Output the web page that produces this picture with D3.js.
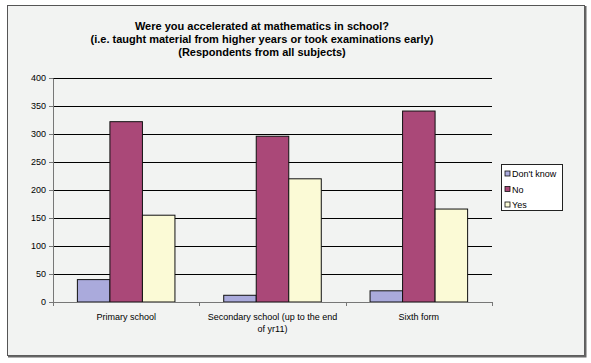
<!DOCTYPE html>
<html>
<head>
<meta charset="utf-8">
<script src="https://cdn.jsdelivr.net/npm/d3@7"></script>
<style>
  body { margin: 0; background: #ffffff; }
  text { font-family: "Liberation Sans", Arial, sans-serif; }
</style>
</head>
<body>
<div id="chart"></div>
<script>
// chart data
var categories = ["Primary school", "Secondary school (up to the end of yr11)", "Sixth form"];
var seriesNames = ["Don't know", "No", "Yes"];
var dontKnow = [40, 12, 20];
var no = [322, 296, 341];
var yes = [155, 220, 166];
var yTicks = [0, 50, 100, 150, 200, 250, 300, 350, 400];
var titleLines = ["Were you accelerated at mathematics in school?",
                  "(i.e. taught material from higher years or took examinations early)",
                  "(Respondents from all subjects)"];

var colors = ["#aaaadc", "#aa4878", "#fbfad6"];
var seriesValues = [dontKnow, no, yes];

var W = 591, H = 363;
var margin = {top: 78, left: 53, right: 99, bottom: 61};
var width = W - margin.left - margin.right,
    height = H - margin.top - margin.bottom;

var svg = d3.select("#chart")
    .append("svg")
    .attr("width", W)
    .attr("height", H);

// chart frame
svg.append("rect")
    .attr("x", 7.5).attr("y", 5.5)
    .attr("width", 577).attr("height", 350)
    .attr("fill", "#f2f3f2")
    .attr("stroke", "#555")
    .attr("stroke-width", 1);
// shadow on right and bottom
svg.append("path")
    .attr("d", "M585.5,6 V356.5 H8")
    .attr("fill", "none")
    .attr("stroke", "#666")
    .attr("stroke-width", 2);

// title
svg.append("g").selectAll("text")
    .data(titleLines)
    .enter()
    .append("text")
    .attr("x", 262)
    .attr("y", (d, i) => 30 + i * 13)
    .attr("text-anchor", "middle")
    .style("font-size", "11px")
    .style("font-weight", "bold")
    .style("fill", "#000")
    .text(d => d);

var g = svg.append("g")
    .attr("transform", "translate(" + margin.left + "," + margin.top + ")");

var x0 = d3.scaleBand()
    .domain(categories)
    .range([0, width])
    .paddingInner(0)
    .paddingOuter(0);

var x1 = d3.scaleBand()
    .domain(seriesNames)
    .range([0, x0.bandwidth()])
    .paddingOuter(0.75)
    .paddingInner(0);

var y = d3.scaleLinear()
    .domain([0, 400])
    .range([height, 0]);

// gridlines
g.append("g")
    .selectAll("line")
    .data(yTicks.filter(d => d > 0))
    .enter()
    .append("line")
    .attr("x1", 0).attr("x2", width)
    .attr("y1", d => Math.round(y(d)) + 0.5)
    .attr("y2", d => Math.round(y(d)) + 0.5)
    .attr("stroke", "#000")
    .attr("stroke-width", 1);

// bars
g.append("g")
    .selectAll("g")
    .data(categories)
    .enter()
    .append("g")
    .attr("transform", d => "translate(" + x0(d) + ",0)")
    .selectAll("rect")
    .data((d, ci) => seriesNames.map((s, si) => ({s: s, si: si, v: seriesValues[si][ci]})))
    .enter()
    .append("rect")
    .attr("x", d => x1(d.s))
    .attr("y", d => y(d.v))
    .attr("width", x1.bandwidth())
    .attr("height", d => height - y(d.v))
    .attr("fill", d => colors[d.si])
    .attr("stroke", "#111")
    .attr("stroke-width", 1);

// y axis
var yAxis = g.append("g")
    .call(d3.axisLeft(y).tickValues(yTicks).tickSize(4).tickSizeOuter(0));
yAxis.select(".domain").attr("stroke", "#777");
yAxis.selectAll(".tick line").attr("stroke", "#777");
yAxis.selectAll("text")
    .style("font-size", "9px")
    .style("font-family", "Liberation Sans, Arial, sans-serif")
    .attr("x", -7)
    .attr("fill", "#000");

// x axis
var xAxis = g.append("g")
    .attr("transform", "translate(0," + height + ")")
    .call(d3.axisBottom(x0).tickSize(0).tickSizeOuter(0));
xAxis.select(".domain").attr("stroke", "#777");
xAxis.selectAll("text").remove();
// category boundary ticks
xAxis.selectAll(".sep")
    .data(d3.range(categories.length + 1))
    .enter()
    .append("line")
    .attr("x1", d => Math.round(d * x0.step()) + 0.5)
    .attr("x2", d => Math.round(d * x0.step()) + 0.5)
    .attr("y1", 0).attr("y2", 4)
    .attr("stroke", "#777");

// wrapped category labels
var catLines = [["Primary school"], ["Secondary school (up to the end", "of yr11)"], ["Sixth form"]];
xAxis.selectAll(".cat")
    .data(categories)
    .enter()
    .append("text")
    .attr("x", d => x0(d) + x0.bandwidth() / 2)
    .attr("y", 18)
    .attr("text-anchor", "middle")
    .style("font-size", "9px")
    .style("fill", "#000")
    .selectAll("tspan")
    .data((d, i) => catLines[i])
    .enter()
    .append("tspan")
    .attr("x", function () { return d3.select(this.parentNode).attr("x"); })
    .attr("dy", (d, i) => i === 0 ? 0 : 12)
    .text(d => d);

// legend
var legend = svg.append("g")
    .attr("transform", "translate(501,164)");
legend.append("rect")
    .attr("x", 0.5).attr("y", 0.5)
    .attr("width", 61).attr("height", 46)
    .attr("fill", "#fff")
    .attr("stroke", "#222");
var item = legend.selectAll(".item")
    .data(seriesNames)
    .enter()
    .append("g")
    .attr("transform", (d, i) => "translate(4," + (7 + i * 15.5) + ")");
item.append("rect")
    .attr("width", 5).attr("height", 5)
    .attr("fill", (d, i) => colors[i])
    .attr("stroke", "#111")
    .attr("stroke-width", 0.8);
item.append("text")
    .attr("x", 7)
    .attr("y", 6)
    .style("font-size", "9px")
    .style("fill", "#000")
    .text(d => d);
</script>
</body>
</html>
